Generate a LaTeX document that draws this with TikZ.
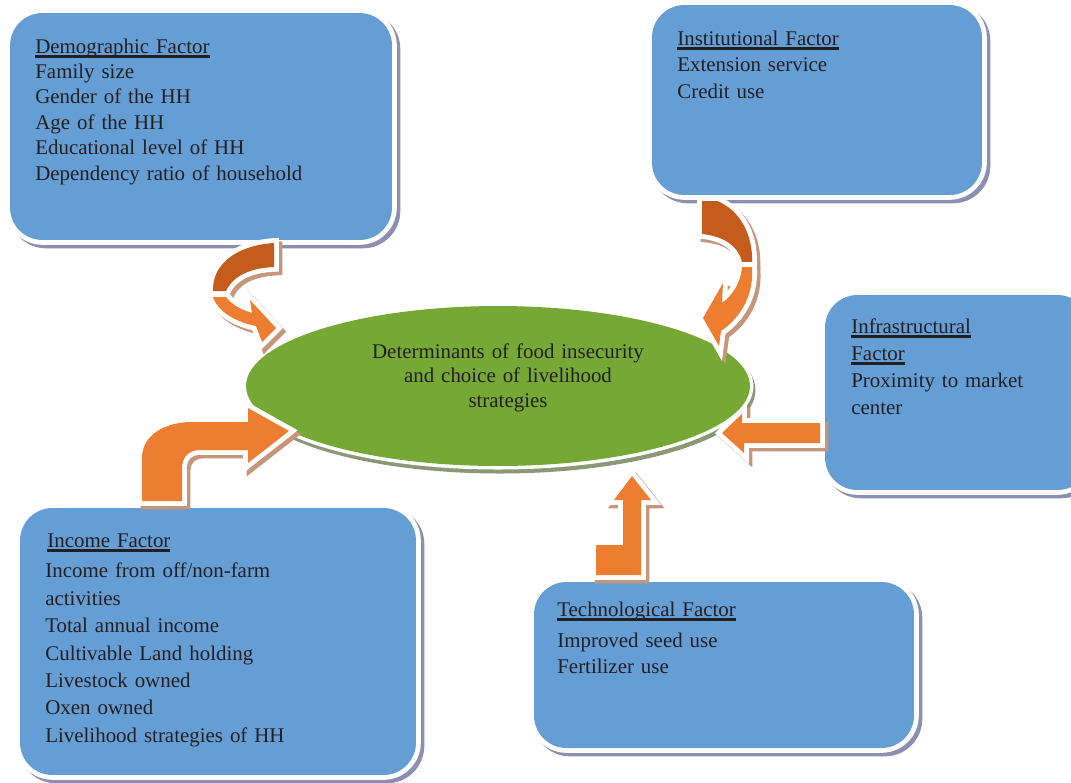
\documentclass[tikz,border=0pt]{standalone}
\usepackage{fontspec}
\setmainfont{Liberation Serif}
\usetikzlibrary{shapes.geometric, shadows}

\definecolor{boxblue}{RGB}{101,157,213}
\definecolor{boxshade}{RGB}{140,143,178}
\definecolor{ellgreen}{RGB}{117,168,52}
\definecolor{ellshade}{RGB}{138,152,118}
\definecolor{arroworange}{RGB}{237,125,49}
\definecolor{arrowdark}{RGB}{196,92,30}
\definecolor{arrowshade}{RGB}{198,150,122}
\definecolor{textgray}{RGB}{35,31,32}

% underlined heading of a box
\newcommand\facthead[1]{\leavevmode\setbox0=\hbox{#1}\rlap{\rule[-2.7pt]{\wd0}{1.4pt}}\box0}

\tikzset{
  factorbox/.style 2 args={rectangle, rounded corners=0.65cm, fill=boxblue,
    drop shadow={shadow xshift=0.07cm, shadow yshift=-0.07cm, fill=boxshade,
      draw=boxshade, line width=5.5pt, opacity=1},
    preaction={draw=white, line width=5.5pt},
    minimum width=#1, minimum height=#2, inner sep=0pt},
  core/.style={ellipse, fill=ellgreen,
    drop shadow={shadow xshift=0.04cm, shadow yshift=-0.08cm, fill=ellshade,
      draw=ellshade, line width=4pt, opacity=1},
    preaction={draw=white, line width=4pt},
    minimum width=10.08cm, minimum height=3.2cm, inner sep=0pt},
  blockarrow/.style={fill=#1,
    drop shadow={shadow xshift=0.07cm, shadow yshift=-0.07cm, fill=arrowshade,
      draw=arrowshade, line width=5.5pt, line join=miter, miter limit=4, opacity=1},
    preaction={draw=white, line width=5.5pt, line join=miter, miter limit=4}},
  blockarrow/.default=arroworange,
  factortext/.style={font=\fontsize{11.9}{14.5}\selectfont, text=textgray,
    inner sep=0pt, text width=7cm, align=left, anchor=base west},
}

\begin{document}
\begin{tikzpicture}[x=0.02cm, y=-0.02cm]
  \useasboundingbox (0,0) rectangle (1071,782);
  \fill[white] (0,0) rectangle (1071,782);
  \clip (0,0) rectangle (1071,782);

  % boxes
  \node[factorbox={7.64cm}{4.54cm}] (demo) at (201,126.5) {};
  \node[factorbox={6.6cm}{3.8cm}] (inst) at (817,100) {};
  \node[factorbox={5.3cm}{3.9cm}] (infra) at (957.5,392.5) {};
  \node[factorbox={7.92cm}{5.34cm}] (income) at (218,641.5) {};
  \node[factorbox={7.6cm}{3.32cm}] (tech) at (724,665) {};

  % centre
  \node[core] (core) at (498,386) {};

  % arrows
  \fill[blockarrow=arrowdark] (274,243) -- (274,267) .. controls (250,268) and (233,276) .. (226,291)
    -- (213,291) .. controls (212,262) and (240,245) .. (274,243) -- cycle;
  \fill[blockarrow] (213,297) -- (226,297) .. controls (232,305) and (242,310) .. (252,313)
    -- (250,300) -- (276,328) -- (262,342) -- (256,326) .. controls (236,322) and (218,312) .. (213,297) -- cycle;
  \fill[blockarrow=arrowdark] (702,201) -- (717,201) .. controls (740,210) and (753,235) .. (752,262)
    -- (742,262) .. controls (738,245) and (722,236) .. (702,234) -- cycle;
  \fill[blockarrow] (742,267) -- (752,267) .. controls (754,292) and (743,316) .. (721,331)
    -- (719,346) -- (703,318) -- (723,283) -- (722,303) .. controls (733,295) and (741,282) .. (742,267) -- cycle;
  \fill[blockarrow] (820,423) -- (742,423) -- (742,414) -- (722,433) -- (744,453) -- (744,443) -- (820,443) -- cycle;
  \fill[blockarrow] (596,575) -- (596,545) -- (623,545) -- (623,500) -- (614,500) -- (632,476)
    -- (651,500) -- (641,500) -- (641,575) -- cycle;
  \fill[blockarrow] (142,501) -- (142,458) .. controls (142,435) and (165,422) .. (192,422) -- (248,422)
    -- (248,408) -- (289,431) -- (248,463) -- (248,450) -- (200,450) .. controls (188,450) and (182,458) .. (182,468)
    -- (182,501) -- cycle;

  % texts
  \node[factortext] (demotext) at (35,53) {\facthead{Demographic Factor}\\Family size\\Gender of the HH\\Age of the HH\\Educational level of HH\\Dependency ratio of household};
  \node[factortext, font=\fontsize{11.9}{15.1}\selectfont] (insttext) at (677,45) {\facthead{Institutional Factor}\\Extension service\\Credit use};
  \node[factortext, font=\fontsize{11.9}{15.4}\selectfont] (infratext) at (851,333) {\facthead{Infrastructural}\\\facthead{Factor}\\Proximity to market\\center};
  \node[factortext, font=\fontsize{11.9}{15.6}\selectfont] (incometext) at (45,547) {\hspace*{0.04cm}\facthead{Income Factor}\\[2pt]Income from off/non-farm\\activities\\Total annual income\\Cultivable Land holding\\Livestock owned\\Oxen owned\\Livelihood strategies of HH};
  \node[factortext, font=\fontsize{11.9}{14.8}\selectfont] (techtext) at (557,616) {\facthead{Technological Factor}\\[3pt]Improved seed use\\Fertilizer use};
  \node[factortext, font=\fontsize{11.9}{14.2}\selectfont, align=center, anchor=base] (coretext) at (508,358) {Determinants of food insecurity\\and choice of livelihood\\strategies};
\end{tikzpicture}
\end{document}
